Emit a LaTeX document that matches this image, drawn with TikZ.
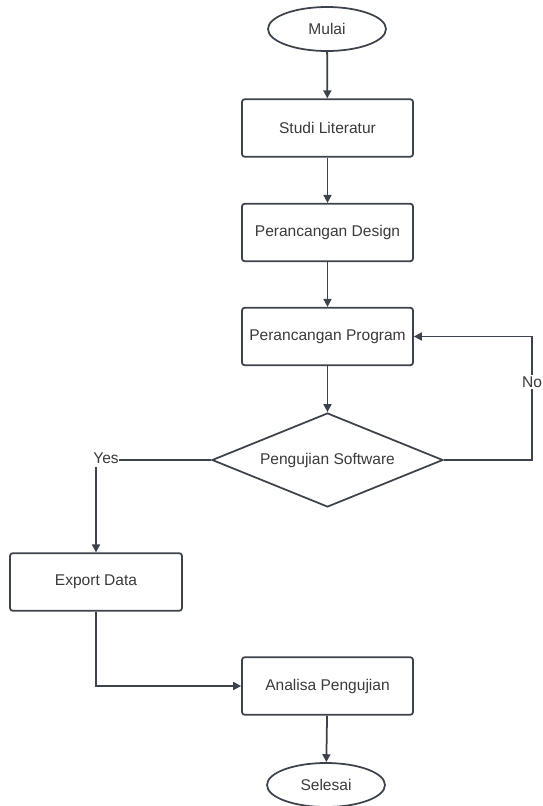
\documentclass[tikz,border=0pt]{standalone}
\usepackage{fontspec}
\setmainfont{Liberation Sans}
\usetikzlibrary{shapes.geometric,arrows.meta}

\definecolor{lineclr}{HTML}{3D434C}
\definecolor{textclr}{HTML}{3A3A3A}

\begin{document}
\begin{tikzpicture}[x=0.02cm, y=-0.02cm, font=\fontsize{8.85}{10}\selectfont, text=textclr,
    every node/.style={align=center},
    box/.style={draw=lineclr, line width=1pt, rounded corners=1.5pt, minimum width=3.42cm, minimum height=1.15cm, inner sep=0pt},
    terminal/.style={draw=lineclr, line width=1pt, ellipse, minimum width=2.36cm, minimum height=0.88cm, inner sep=0pt},
    decision/.style={draw=lineclr, line width=1pt, diamond, shape aspect=2.46, minimum width=4.62cm, minimum height=1.88cm, inner sep=0pt},
    arrow/.style={draw=lineclr, line width=1pt, -{Triangle[length=4.5pt,width=4.5pt]}},
    line/.style={draw=lineclr, line width=1pt}]
        \useasboundingbox (0,0) rectangle (542,806);

        \node[terminal] (start) at (327,29) {Mulai};
        \node[box] (studi) at (327.5,128) {Studi Literatur};
        \node[box] (design) at (327.5,232.5) {Perancangan Design};
        \node[box] (program) at (327.5,336.5) {Perancangan Program};
        \node[decision] (test) at (327.5,460) {Pengujian Software};
        \node[box, minimum width=3.44cm] (export) at (96,582) {Export Data};
        \node[box] (analisa) at (327.5,686) {Analisa Pengujian};
        \node[terminal] (finish) at (326,785) {Selesai};

        \draw[arrow] (start) -- (studi);
        \draw[arrow] (studi) -- (design);
        \draw[arrow] (design) -- (program);
        \draw[arrow] (program) -- (test);

        \node[inner sep=0pt] (yes) at (106,458) {Yes};
        \draw[line] (test.west) -- (test.west -| yes.east);
        \draw[arrow] (yes.south -| export.north) ++(0,3) -- (export.north);

        \coordinate (noturn) at (532,460);
        \draw[arrow] (test.east) -- (noturn) |- (program.east);
        \node[fill=white, inner sep=1pt] (no) at (532,382) {No};

        \draw[arrow] (export.south) |- (analisa.west);
        \draw[arrow] (analisa) -- (finish);
    \end{tikzpicture}
\end{document}
